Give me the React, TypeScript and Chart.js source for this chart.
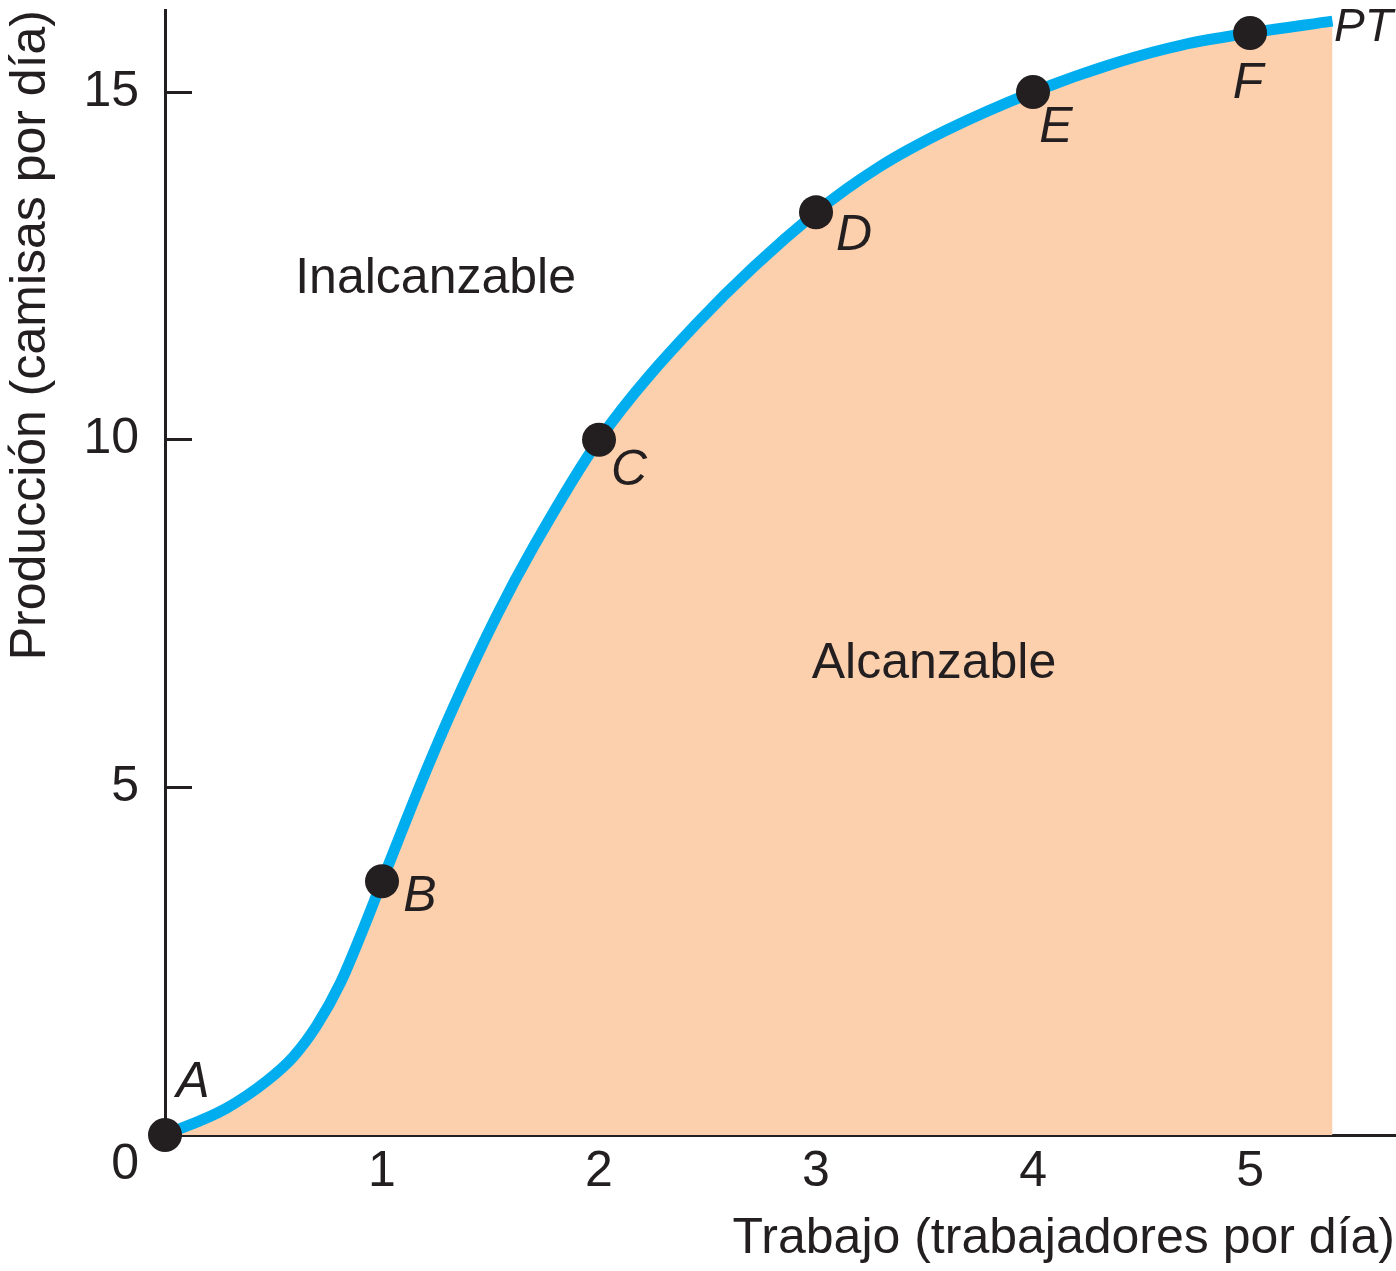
import React, { useEffect, useRef } from 'react';
import { Chart, registerables } from 'chart.js';

Chart.register(...registerables);

// Production curve
const curveX = [0, 0.28, 0.47, 0.59, 0.7, 0.81, 0.9, 1.0, 1.1, 1.21, 1.33, 1.53, 1.7, 2.0, 2.45, 3.0, 3.29, 3.6, 4.0, 4.39, 4.69, 5.0, 5.38];
const curveY = [0, 0.38, 0.78, 1.12, 1.58, 2.2, 2.86, 3.65, 4.44, 5.29, 6.16, 7.48, 8.47, 10.0, 11.67, 13.27, 13.92, 14.45, 15.0, 15.43, 15.68, 15.85, 16.02];
const curveName = 'PT';

// Labelled points A–F
const pointNames = ['A', 'B', 'C', 'D', 'E', 'F'];
const pointX = [0, 1, 2, 3, 4, 5];
const pointY = [0, 3.65, 10, 13.27, 15, 15.85];

// Axes
const xTitle = 'Trabajo (trabajadores por día)';
const yTitle = 'Producción (camisas por día)';
const xMin = 0;
const xMax = 5.668;
const yMin = 0;
const yMax = 16.18;
const xStep = 1;
const yStep = 5;

// Region annotations
const regionNames = ['Inalcanzable', 'Alcanzable'];
const regionX = [0.6, 2.98];
const regionY = [12.11, 6.57];

const FONT = '"Liberation Sans", Arial, sans-serif';
const FONT_SIZE = 50;
const INK = '#231F20';
const BLUE = '#00AEEF';
const PEACH = '#FCCFAD';

const labelOffsets: [number, number][] = [
  [28, -52],
  [38, 16],
  [30, 31],
  [38, 24],
  [23, 36],
  [-2, 51],
];

const labelPlugin = {
  id: 'textLabels',
  afterDraw(chart: any) {
    const ctx = chart.ctx;
    const xs = chart.scales.x;
    const ys = chart.scales.y;
    ctx.save();
    ctx.fillStyle = INK;
    ctx.font = `italic ${FONT_SIZE}px ${FONT}`;
    ctx.textAlign = 'center';
    ctx.textBaseline = 'middle';
    const pMeta = chart.getDatasetMeta(0);
    pMeta.data.forEach((el: any, i: number) => {
      const [dx, dy] = labelOffsets[i];
      ctx.fillText(pointNames[i], el.x + dx, el.y + dy);
    });
    const cMeta = chart.getDatasetMeta(1);
    const last = cMeta.data[cMeta.data.length - 1];
    ctx.font = `italic 46px ${FONT}`;
    ctx.fillText(curveName, last.x + 31, last.y + 7);

    ctx.font = `${FONT_SIZE}px ${FONT}`;
    ctx.textAlign = 'left';
    ctx.textBaseline = 'alphabetic';
    regionNames.forEach((t, i) => {
      ctx.fillText(t, xs.getPixelForValue(regionX[i]), ys.getPixelForValue(regionY[i]));
    });
    ctx.restore();
  },
};

export default function App() {
  const ref = useRef<HTMLCanvasElement | null>(null);

  useEffect(() => {
    if (!ref.current) return;
    const font = { family: FONT, size: FONT_SIZE, lineHeight: 1.2 };
    const chart = new Chart(ref.current, {
      type: 'scatter',
      data: {
        datasets: [
          {
            label: 'points',
            data: pointX.map((x, i) => ({ x, y: pointY[i] })),
            showLine: false,
            pointRadius: 17,
            pointHoverRadius: 17,
            pointBackgroundColor: INK,
            pointBorderWidth: 0,
            clip: false,
          },
          {
            label: curveName,
            data: curveX.map((x, i) => ({ x, y: curveY[i] })),
            showLine: true,
            borderColor: BLUE,
            borderWidth: 11,
            backgroundColor: PEACH,
            fill: 'origin',
            pointRadius: 0,
            pointHoverRadius: 0,
            cubicInterpolationMode: 'monotone',
            borderCapStyle: 'butt',
            clip: false,
          },
        ],
      },
      options: {
        responsive: false,
        maintainAspectRatio: false,
        animation: false,
        devicePixelRatio: 1,
        events: [],
        layout: { autoPadding: false, padding: { top: 10, right: 1, left: 0, bottom: 0 } },
        plugins: {
          legend: { display: false },
          tooltip: { enabled: false },
        },
        scales: {
          x: {
            type: 'linear',
            min: xMin,
            max: xMax,
            z: 1,
            border: { display: true, color: INK, width: 3 },
            grid: {
              drawOnChartArea: false,
              drawTicks: true,
              tickLength: -27,
              color: INK,
              tickColor: INK,
              lineWidth: 3,
              tickWidth: 3,
            },
            ticks: {
              stepSize: xStep,
              includeBounds: false,
              autoSkip: false,
              maxRotation: 0,
              padding: 34,
              color: INK,
              font,
              callback: (v: any) => (Number(v) === 0 ? '' : String(v)),
            },
            title: {
              display: true,
              text: xTitle,
              align: 'end',
              color: INK,
              font,
              padding: { top: 0, bottom: 2 },
            },
            afterFit(scale: any) {
              scale.height = 136;
              scale.paddingLeft = 0;
              scale.paddingRight = 0;
              scale.paddingTop = 0;
              scale.paddingBottom = 0;
            },
          },
          y: {
            type: 'linear',
            min: yMin,
            max: yMax,
            z: 1,
            border: { display: true, color: INK, width: 3 },
            grid: {
              drawOnChartArea: false,
              drawTicks: true,
              tickLength: -27,
              color: INK,
              tickColor: INK,
              lineWidth: 3,
              tickWidth: 3,
            },
            ticks: {
              stepSize: yStep,
              includeBounds: false,
              autoSkip: false,
              padding: 53,
              color: INK,
              font,
              callback: (v: any) => (Number(v) === 0 ? ['', '0'] : String(v)),
            },
            title: {
              display: true,
              text: yTitle,
              align: 'end',
              color: INK,
              font,
              padding: { top: 1, bottom: 0 },
            },
            afterFit(scale: any) {
              scale.width = 165;
              scale.paddingLeft = 0;
              scale.paddingRight = 0;
              scale.paddingTop = 0;
              scale.paddingBottom = 0;
            },
          },
        },
      },
      plugins: [labelPlugin],
    } as any);
    return () => chart.destroy();
  }, []);

  return (
    <div style={{ position: 'absolute', left: 0, top: 0, width: 1396, height: 1271, background: '#fff' }}>
      <canvas ref={ref} width={1396} height={1271} style={{ display: 'block', width: 1396, height: 1271 }} />
    </div>
  );
}
